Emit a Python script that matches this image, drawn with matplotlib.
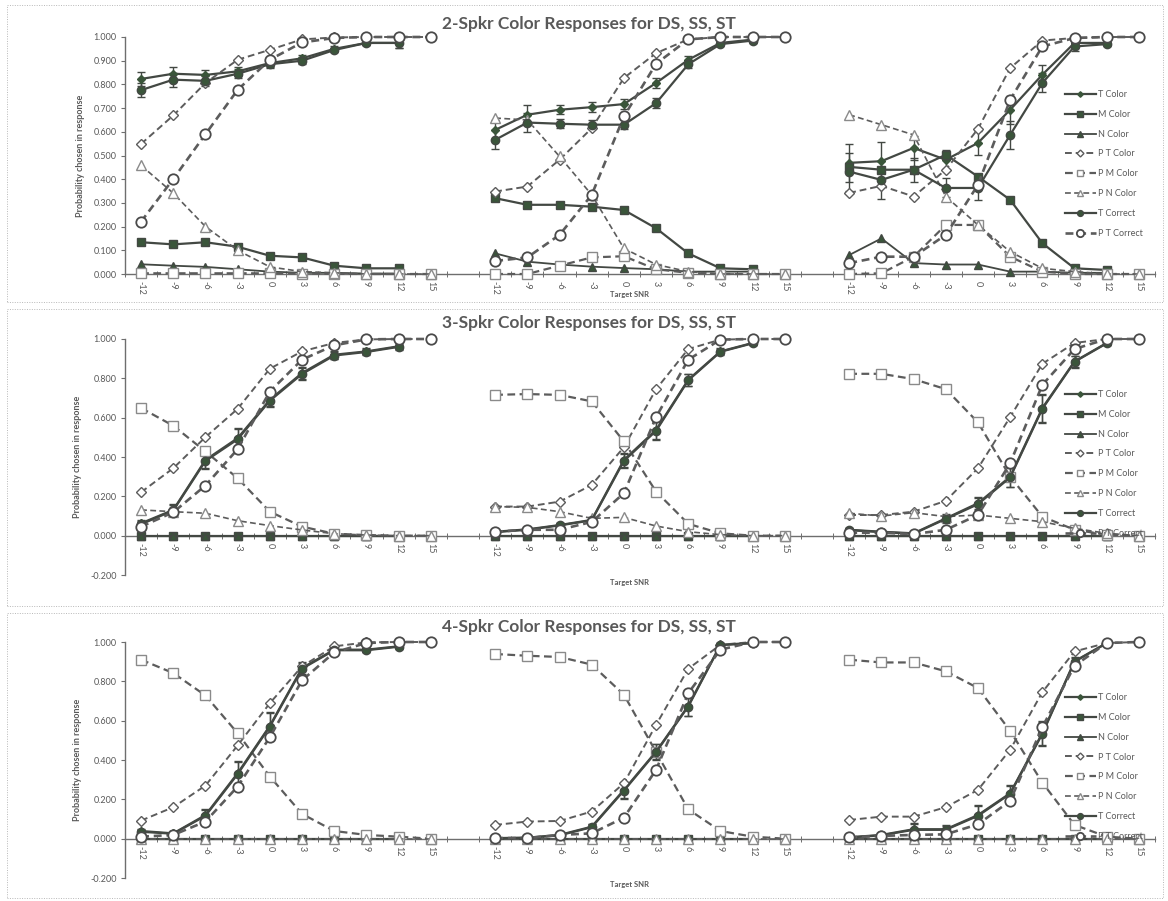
import numpy as np
import matplotlib.pyplot as plt
from matplotlib.patches import Rectangle

plt.rcParams['font.family'] = ['Lato', 'DejaVu Sans']

n = np.nan
snr = ["-12", "-9", "-6", "-3", "0", "3", "6", "9", "12", "15"]
groups = ["DS", "SS", "ST"]

# ---- 2 speakers: one list per group (DS, SS, ST), 10 SNR steps each ----
s2_t_color = [[0.823, 0.845, 0.840, 0.855, 0.890, 0.910, 0.950, 0.975, 0.975, n],
              [0.608, 0.672, 0.693, 0.704, 0.717, 0.806, 0.904, 0.975, 0.989, n],
              [0.469, 0.476, 0.532, 0.482, 0.553, 0.693, 0.841, 0.975, 0.975, n]]
s2_m_color = [[0.134, 0.125, 0.134, 0.115, 0.077, 0.070, 0.035, 0.024, 0.024, n],
              [0.320, 0.292, 0.292, 0.284, 0.270, 0.193, 0.087, 0.024, 0.020, n],
              [0.452, 0.440, 0.440, 0.503, 0.411, 0.313, 0.130, 0.024, 0.017, n]]
s2_n_color = [[0.041, 0.035, 0.030, 0.020, 0.010, 0.005, 0.005, 0.002, 0.002, n],
              [0.087, 0.052, 0.040, 0.031, 0.025, 0.020, 0.010, 0.010, 0.010, n],
              [0.080, 0.150, 0.046, 0.040, 0.040, 0.010, 0.010, 0.005, 0.005, n]]
s2_pt_color = [[0.549, 0.669, 0.806, 0.904, 0.946, 0.990, 0.998, 1.0, 1.0, 1.0],
               [0.348, 0.369, 0.482, 0.615, 0.827, 0.932, 0.990, 1.0, 1.0, 1.0],
               [0.342, 0.372, 0.327, 0.440, 0.612, 0.869, 0.985, 0.996, 1.0, 1.0]]
s2_pm_color = [[0.003, 0.003, 0.003, 0.003, 0.003, 0.002, 0.001, 0.0, 0.0, 0.0],
               [0.0, 0.0, 0.035, 0.070, 0.075, 0.020, 0.005, 0.0, 0.0, 0.0],
               [0.0, 0.003, 0.073, 0.207, 0.207, 0.073, 0.010, 0.0, 0.0, 0.0]]
s2_pn_color = [[0.458, 0.341, 0.200, 0.100, 0.030, 0.010, 0.005, 0.0, 0.0, 0.0],
               [0.658, 0.650, 0.496, 0.334, 0.108, 0.040, 0.010, 0.0, 0.0, 0.0],
               [0.672, 0.630, 0.587, 0.327, 0.207, 0.094, 0.024, 0.010, 0.0, 0.0]]
s2_t_correct = [[0.776, 0.820, 0.815, 0.845, 0.885, 0.900, 0.945, 0.975, 0.975, n],
                [0.566, 0.639, 0.634, 0.630, 0.630, 0.721, 0.885, 0.970, 0.985, n],
                [0.432, 0.397, 0.440, 0.363, 0.363, 0.587, 0.806, 0.960, 0.970, n]]
s2_pt_correct = [[0.221, 0.401, 0.590, 0.777, 0.904, 0.977, 0.996, 1.0, 1.0, 1.0],
                 [0.055, 0.070, 0.165, 0.334, 0.665, 0.887, 0.990, 1.0, 1.0, 1.0],
                 [0.046, 0.073, 0.073, 0.165, 0.376, 0.735, 0.960, 0.996, 1.0, 1.0]]
s2_err = [[0.03, 0.03, 0.02, 0.02, 0.015, 0.015, 0.01, 0.01, 0.02, n],
          [0.04, 0.04, 0.02, 0.02, 0.02, 0.02, 0.015, 0.01, 0.01, n],
          [0.08, 0.08, 0.05, 0.04, 0.05, 0.06, 0.04, 0.02, 0.01, n]]

# ---- 3 speakers ----
s3_t_color = [[0.063, 0.131, 0.385, 0.496, 0.691, 0.827, 0.920, 0.937, 0.963, n],
              [0.020, 0.032, 0.054, 0.080, 0.385, 0.538, 0.793, 0.937, 0.980, n],
              [0.030, 0.020, 0.012, 0.088, 0.165, 0.300, 0.649, 0.886, 0.980, n]]
s3_m_color = [[0.0] * 9 + [n]] * 3
s3_n_color = [[0.0] * 9 + [n]] * 3
s3_pt_color = [[0.221, 0.343, 0.501, 0.645, 0.849, 0.937, 0.980, 0.998, 1.0, 1.0],
               [0.148, 0.148, 0.173, 0.258, 0.450, 0.745, 0.949, 0.997, 1.0, 1.0],
               [0.105, 0.105, 0.122, 0.177, 0.343, 0.603, 0.874, 0.980, 1.0, 1.0]]
s3_pm_color = [[0.649, 0.559, 0.428, 0.292, 0.122, 0.046, 0.010, 0.003, 0.0, 0.0],
               [0.716, 0.720, 0.716, 0.683, 0.479, 0.224, 0.060, 0.012, 0.0, 0.0],
               [0.823, 0.823, 0.796, 0.745, 0.576, 0.300, 0.097, 0.030, 0.005, 0.0]]
s3_pn_color = [[0.131, 0.122, 0.114, 0.076, 0.051, 0.029, 0.010, 0.003, 0.0, 0.0],
               [0.148, 0.144, 0.122, 0.088, 0.093, 0.049, 0.020, 0.005, 0.0, 0.0],
               [0.114, 0.100, 0.117, 0.097, 0.105, 0.088, 0.071, 0.037, 0.012, 0.0]]
s3_t_correct = [[0.058, 0.128, 0.380, 0.490, 0.686, 0.822, 0.916, 0.934, 0.960, n],
                [0.018, 0.030, 0.052, 0.078, 0.380, 0.533, 0.790, 0.935, 0.978, n],
                [0.028, 0.018, 0.010, 0.085, 0.160, 0.296, 0.645, 0.884, 0.978, n]]
s3_pt_correct = [[0.046, 0.119, 0.255, 0.440, 0.733, 0.895, 0.968, 0.998, 1.0, 1.0],
                 [0.020, 0.030, 0.030, 0.070, 0.216, 0.603, 0.895, 0.997, 1.0, 1.0],
                 [0.015, 0.015, 0.008, 0.030, 0.105, 0.368, 0.767, 0.949, 1.0, 1.0]]
s3_err = [[0.015, 0.03, 0.04, 0.05, 0.03, 0.03, 0.02, 0.015, 0.015, n],
          [0.01, 0.01, 0.01, 0.015, 0.035, 0.045, 0.03, 0.015, 0.01, n],
          [0.01, 0.01, 0.01, 0.02, 0.03, 0.05, 0.07, 0.03, 0.01, n]]

# ---- 4 speakers ----
s4_t_color = [[0.039, 0.027, 0.120, 0.333, 0.574, 0.868, 0.961, 0.961, 0.978, n],
              [0.003, 0.005, 0.019, 0.061, 0.248, 0.443, 0.676, 0.986, 0.995, n],
              [0.007, 0.019, 0.048, 0.048, 0.120, 0.231, 0.537, 0.902, 0.995, n]]
s4_m_color = [[0.0] * 9 + [n]] * 3
s4_n_color = [[0.0] * 9 + [n]] * 3
s4_pt_color = [[0.092, 0.160, 0.270, 0.474, 0.689, 0.876, 0.978, 0.998, 1.0, 1.0],
               [0.070, 0.087, 0.090, 0.138, 0.282, 0.579, 0.864, 0.986, 1.0, 1.0],
               [0.095, 0.112, 0.112, 0.160, 0.248, 0.452, 0.745, 0.952, 0.995, 1.0]]
s4_pm_color = [[0.910, 0.842, 0.728, 0.536, 0.316, 0.126, 0.039, 0.019, 0.010, 0.0],
               [0.939, 0.930, 0.924, 0.885, 0.732, 0.440, 0.149, 0.039, 0.010, 0.0],
               [0.910, 0.896, 0.896, 0.851, 0.766, 0.548, 0.285, 0.070, 0.010, 0.0]]
s4_pn_color = [[0.0] * 10] * 3
s4_t_correct = [[0.035, 0.025, 0.116, 0.328, 0.570, 0.864, 0.958, 0.958, 0.976, n],
                [0.002, 0.004, 0.017, 0.058, 0.244, 0.440, 0.672, 0.984, 0.994, n],
                [0.006, 0.017, 0.045, 0.045, 0.116, 0.228, 0.533, 0.900, 0.994, n]]
s4_pt_correct = [[0.010, 0.019, 0.087, 0.265, 0.516, 0.805, 0.947, 0.995, 1.0, 1.0],
                 [0.003, 0.003, 0.019, 0.027, 0.107, 0.350, 0.740, 0.961, 1.0, 1.0],
                 [0.007, 0.014, 0.019, 0.022, 0.073, 0.192, 0.567, 0.879, 0.995, 1.0]]
s4_err = [[0.01, 0.01, 0.03, 0.06, 0.07, 0.03, 0.015, 0.01, 0.01, n],
          [0.005, 0.005, 0.01, 0.015, 0.04, 0.04, 0.05, 0.01, 0.01, n],
          [0.005, 0.01, 0.03, 0.02, 0.05, 0.04, 0.06, 0.02, 0.01, n]]


def flat(grp):
    # DS | blank | SS | blank | ST on one category axis
    out = []
    for i, g in enumerate(grp):
        out += list(g)
        if i < len(grp) - 1:
            out.append(n)
    return np.array(out, dtype=float)


x = np.arange(32)
xlabels = snr + [""] + snr + [""] + snr

dark = "#434843"
mfill = "#3a553a"
gray_line = "#5c5c5c"
txt = "#595959"

styles = [
    ("T Color", dict(color=dark, lw=1.6, ls="-", marker="D", ms=4, mfc=mfill, mec=mfill)),
    ("M Color", dict(color=dark, lw=1.6, ls="-", marker="s", ms=6, mfc=mfill, mec=dark)),
    ("N Color", dict(color=dark, lw=1.3, ls="-", marker="^", ms=5.5, mfc=mfill, mec=dark)),
    ("P T Color", dict(color=gray_line, lw=1.4, ls=(0, (3.5, 2)), marker="D", ms=5, mfc="white", mec=gray_line, mew=1.0)),
    ("P M Color", dict(color=gray_line, lw=1.6, ls=(0, (3.5, 2)), marker="s", ms=7, mfc="white", mec="#8a8a8a", mew=1.0)),
    ("P N Color", dict(color=gray_line, lw=1.2, ls=(0, (3.5, 2)), marker="^", ms=6.5, mfc="white", mec="#8a8a8a", mew=1.0)),
    ("T Correct", dict(color=dark, lw=1.6, ls="-", marker="o", ms=6, mfc=mfill, mec=dark)),
    ("P T Correct", dict(color=gray_line, lw=1.9, ls=(0, (3, 1.8)), marker="o", ms=7.5, mfc="white", mec="#4a4a4a", mew=1.3)),
]

panels = [
    ("2-Spkr Color Responses for DS, SS, ST",
     [s2_t_color, s2_m_color, s2_n_color, s2_pt_color, s2_pm_color, s2_pn_color, s2_t_correct, s2_pt_correct],
     s2_err, (0.0, 1.0), np.arange(0, 1.01, 0.1), 37, 274, 5, 302, 24, 295, 90),
    ("3-Spkr Color Responses for DS, SS, ST",
     [s3_t_color, s3_m_color, s3_n_color, s3_pt_color, s3_pm_color, s3_pn_color, s3_t_correct, s3_pt_correct],
     s3_err, (-0.2, 1.0), np.arange(-0.2, 1.01, 0.2), 339, 575, 309, 606, 323, 583, 390),
    ("4-Spkr Color Responses for DS, SS, ST",
     [s4_t_color, s4_m_color, s4_n_color, s4_pt_color, s4_pm_color, s4_pn_color, s4_t_correct, s4_pt_correct],
     s4_err, (-0.2, 1.0), np.arange(-0.2, 1.01, 0.2), 642, 878, 613, 898, 627, 885, 693),
]

W, H = 1168, 901
fig = plt.figure(figsize=(W / 100, H / 100), dpi=100)

for title, series, err, ylim, yt, top_px, bot_px, fr_top, fr_bot, title_y, xlab_y, leg_top in panels:
    # dotted frame around each chart
    fig.add_artist(Rectangle((7 / W, 1 - fr_bot / H), 1156 / W, (fr_bot - fr_top) / H,
                             transform=fig.transFigure, fill=False, ls=(0, (1, 1.5)),
                             ec="#b8b8b8", lw=0.7))

    ax = fig.add_axes([125 / W, 1 - bot_px / H, 1030 / W, (bot_px - top_px) / H])
    ax.set_xlim(-0.5, 31.5)
    ax.set_ylim(*ylim)

    handles = []
    for (label, st), data in zip(styles, series):
        y = flat(data)
        (ln,) = ax.plot(x, y, label=label, clip_on=False, zorder=3, **st)
        handles.append(ln)
        if label in ("T Color", "T Correct"):
            ax.errorbar(x, y, yerr=flat(err), fmt="none", ecolor=dark, elinewidth=1.0,
                        capsize=3, capthick=1.0, zorder=2.5, clip_on=False)

    for s in ["top", "right"]:
        ax.spines[s].set_visible(False)
    ax.spines["bottom"].set_position(("data", 0))
    ax.spines["left"].set_color("#6e6e6e")
    ax.spines["bottom"].set_color("#6e6e6e")
    ax.spines["left"].set_linewidth(1.0)
    ax.spines["bottom"].set_linewidth(1.0)

    ax.set_yticks(yt)
    ax.set_yticklabels([f"{v:.3f}" for v in yt], fontsize=6.5, color=txt)
    ax.tick_params(axis="y", length=3, width=0.8, color="#6e6e6e", pad=3)

    ax.set_xticks(x)
    ax.set_xticklabels(xlabels, rotation=-90, fontsize=6.5, color=txt)
    ax.tick_params(axis="x", which="major", length=0, pad=5)
    ax.set_xticks(np.arange(-0.5, 32, 1), minor=True)
    ax.tick_params(axis="x", which="minor", length=4, width=0.7, color="#6e6e6e", direction="inout")

    ax.set_ylabel("Probability chosen in response", fontsize=6.5, color=txt, fontweight="bold", labelpad=6)

    fig.text(589 / W, 1 - title_y / H, title, ha="center", va="center",
             fontsize=12.5, fontweight="bold", color=txt)
    fig.text(630 / W, 1 - xlab_y / H, "Target SNR", ha="center", va="center",
             fontsize=5.5, fontweight="bold", color=txt)

    fig.legend(handles=handles, loc="upper left", bbox_to_anchor=(1065 / W, 1 - leg_top / H),
               frameon=False, fontsize=6.5, labelcolor=txt, handlelength=3.4,
               handletextpad=0.3, labelspacing=1.2, borderpad=0, borderaxespad=0,
               markerscale=0.7)

fig.savefig("out.png", dpi=100, facecolor="white")
